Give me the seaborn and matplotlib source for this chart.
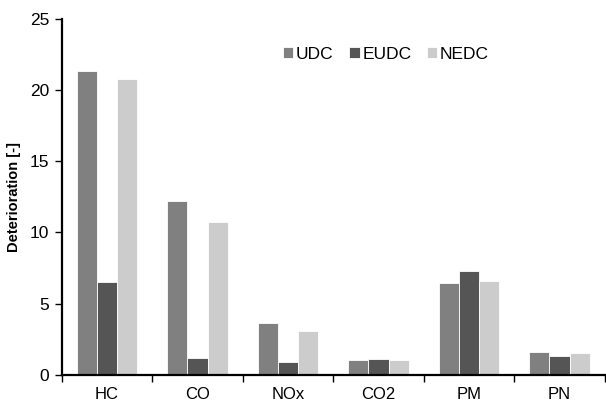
import pandas as pd
import matplotlib
matplotlib.use("Agg")
import matplotlib.pyplot as plt
import seaborn as sns

sns.set_style("white")
plt.rcParams['font.family'] = ['Liberation Sans', 'DejaVu Sans']
plt.rcParams['text.color'] = 'black'
plt.rcParams['axes.labelcolor'] = 'black'
plt.rcParams['xtick.color'] = 'black'
plt.rcParams['ytick.color'] = 'black'

# Données
categories = ['HC', 'CO', 'NOx', 'CO2', 'PM', 'PN']
cycles = ['UDC', 'EUDC', 'NEDC']
udc = [21.35, 12.2, 3.65, 1.03, 6.44, 1.6]
eudc = [6.55, 1.2, 0.91, 1.12, 7.3, 1.31]
nedc = [20.8, 10.72, 3.09, 1.08, 6.6, 1.52]

df = pd.DataFrame({
    'Polluant': categories * 3,
    'Cycle': ['UDC'] * 6 + ['EUDC'] * 6 + ['NEDC'] * 6,
    'Valeur': udc + eudc + nedc,
})

couleurs = {'UDC': '#808080', 'EUDC': '#555555', 'NEDC': '#cccccc'}

fig = plt.figure(figsize=(6.06, 4.01), dpi=100)
ax = fig.add_axes([0.102, 0.065, 0.896, 0.888])
sns.barplot(data=df, x='Polluant', y='Valeur', hue='Cycle', hue_order=cycles,
            palette=couleurs, width=0.67, edgecolor='white', linewidth=0.6,
            saturation=1, ax=ax)

ax.set_xlim(-0.5, 5.5)
ax.set_ylim(0, 25)
ax.set_yticks([0, 5, 10, 15, 20, 25])
ax.set_xlabel('')
ax.set_ylabel('Deterioration [-]', fontsize=10.5, fontweight='bold', labelpad=6)

# Graduations entre les catégories
ax.set_xticks([i - 0.5 for i in range(7)], minor=True)
ax.tick_params(axis='x', which='major', length=0, labelsize=12, pad=9)
ax.tick_params(axis='x', which='minor', bottom=True, length=5, width=1, direction='out')
ax.tick_params(axis='y', length=5, width=1, direction='out', labelsize=12.5, left=True, pad=4)

for s in ['top', 'right']:
    ax.spines[s].set_visible(False)
for s in ['left', 'bottom']:
    ax.spines[s].set_color('black')
    ax.spines[s].set_linewidth(1.6)

ax.legend(loc='center', bbox_to_anchor=(0.597, 0.9), ncol=3, frameon=False,
          fontsize=12.5, handlelength=0.6, handleheight=0.6, handletextpad=0.15,
          columnspacing=0.9)

fig.savefig('out.png', dpi=100)
